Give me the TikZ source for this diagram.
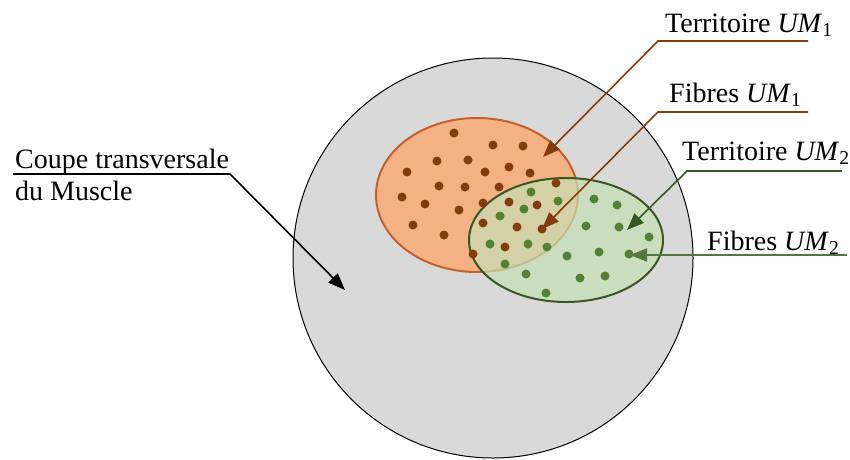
\documentclass[tikz,border=0pt]{standalone}
\usepackage{fontspec}
\setmainfont{Liberation Serif}
\usetikzlibrary{arrows.meta}

\begin{document}
\begin{tikzpicture}[
    x=1pt, y=-1pt,
    every node/.style={font=\fontsize{28}{32}\selectfont, inner sep=0pt},
    % Etiquette (texte a gauche sur sa ligne de base)
    etiquette/.style={anchor=base west},
    % Fleche de renvoi (trait + pointe triangulaire)
    flecheRenvoi/.style={
        line width=1.6pt, -{Triangle[length=17pt, width=13pt]}
    },
    % Fibres (petits disques)
    fibre/.style={radius=4.5}
]
    % --- COULEURS ---
    \definecolor{grisMuscle}{RGB}{217, 217, 217}
    \definecolor{orangeFond}{RGB}{244, 177, 131}
    \definecolor{orangeBord}{RGB}{192, 98, 43}
    \definecolor{brunUM}{RGB}{132, 60, 12}
    \definecolor{vertFond}{RGB}{197, 224, 180}
    \definecolor{vertBord}{RGB}{56, 87, 35}
    \definecolor{vertUM}{RGB}{84, 130, 53}
    \definecolor{vertTrait}{RGB}{84, 120, 60}

    \useasboundingbox (0, 0) rectangle (850, 459);

    % 1. Coupe du muscle
    \fill[grisMuscle, draw=black, line width=1pt] (493, 258) circle [radius=200];

    % 2. Territoire UM1
    \fill[orangeFond, draw=orangeBord, line width=2pt]
        (477, 195) ellipse [x radius=101, y radius=77];

    % 3. Territoire UM2 (transparent)
    \fill[vertFond, fill opacity=0.7] (566, 240) ellipse [x radius=97, y radius=62];
    \draw[vertBord, line width=2pt] (566, 240) ellipse [x radius=97, y radius=62];

    % 4. Fibres UM1
    \foreach \p in {(454,133), (493,145), (523,146), (437,161), (468,160),
                    (485,172), (509,167), (530,173), (407,172), (439,186),
                    (465,187), (499,187), (556,183), (402,197), (425,204),
                    (459,210), (483,203), (509,202), (537,205), (413,225),
                    (444,235), (483,223), (517,227), (542,229), (505,247),
                    (473,254)}
        \fill[brunUM] \p circle [fibre];

    % 5. Fibres UM2
    \foreach \p in {(531,192), (558,201), (594,199), (617,205), (524,209),
                    (500,216), (586,226), (619,227), (649,237), (490,244),
                    (528,244), (547,247), (599,252), (629,254), (567,256),
                    (505,264), (526,274), (580,278), (605,276), (546,293)}
        \fill[vertUM] \p circle [fibre];

    % 6. Etiquettes
    \node[etiquette] (territoireA) at (665, 32) {Territoire \textit{UM}\textsubscript{1}};
    \node[etiquette] (fibresA) at (669, 102) {Fibres \textit{UM}\textsubscript{1}};
    \node[etiquette] (territoireB) at (682, 160) {Territoire \textit{UM}\textsubscript{2}};
    \node[etiquette] (fibresB) at (707, 250) {Fibres \textit{UM}\textsubscript{2}};
    \node[anchor=north west, align=left] (coupe) at (15, 149)
        {Coupe transversale\\du Muscle};

    % 7. Points des renvois
    \coordinate (territoireAfin) at (808, 41);
    \coordinate (territoireAcoude) at (658, 41);
    \coordinate (territoireApointe) at (543, 157);
    \coordinate (fibresAfin) at (808, 112);
    \coordinate (fibresAcoude) at (658, 112);
    \coordinate (fibresApointe) at (542, 229);
    \coordinate (territoireBfin) at (842, 171);
    \coordinate (territoireBcoude) at (687, 171);
    \coordinate (territoireBpointe) at (627, 230);
    \coordinate (fibresBfin) at (847, 255);
    \coordinate (fibresBpointe) at (630, 255);
    \coordinate (coupeDebut) at (13, 174);
    \coordinate (coupeCoude) at (230, 174);
    \coordinate (coupePointe) at (345, 290);

    % 8. Renvois
    \draw[flecheRenvoi, brunUM] (territoireAfin) -- (territoireAcoude) -- (territoireApointe);
    \draw[flecheRenvoi, brunUM] (fibresAfin) -- (fibresAcoude) -- (fibresApointe);
    \draw[flecheRenvoi, vertBord] (territoireBfin) -- (territoireBcoude) -- (territoireBpointe);
    \draw[flecheRenvoi, vertTrait] (fibresBfin) -- (fibresBpointe);
    \draw[flecheRenvoi, black] (coupeDebut) -- (coupeCoude) -- (coupePointe);

\end{tikzpicture}
\end{document}
